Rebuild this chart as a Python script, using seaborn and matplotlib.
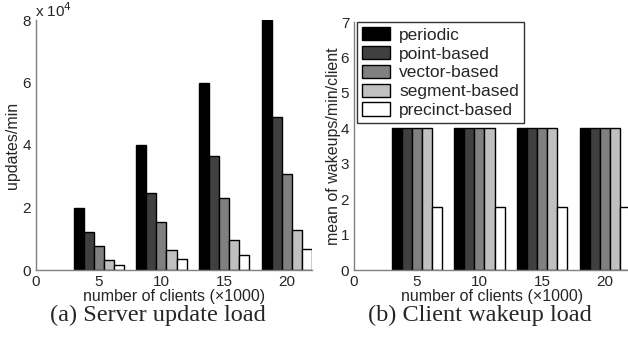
import pandas as pd
import matplotlib.pyplot as plt
import seaborn as sns

# data
clients = [5, 10, 15, 20]
methods = ['periodic', 'point-based', 'vector-based', 'segment-based', 'precinct-based']
updates = {  # x 10^4 updates/min
    'periodic':       [2.00, 4.00, 6.00, 8.00],
    'point-based':    [1.23, 2.45, 3.66, 4.89],
    'vector-based':   [0.77, 1.55, 2.31, 3.07],
    'segment-based':  [0.33, 0.65, 0.96, 1.29],
    'precinct-based': [0.17, 0.34, 0.49, 0.68],
}
wakeups = {  # mean wakeups/min/client
    'periodic':       [4.0, 4.0, 4.0, 4.0],
    'point-based':    [4.0, 4.0, 4.0, 4.0],
    'vector-based':   [4.0, 4.0, 4.0, 4.0],
    'segment-based':  [4.0, 4.0, 4.0, 4.0],
    'precinct-based': [1.77, 1.77, 1.77, 1.77],
}
colors = ['#000000', '#404040', '#808080', '#c0c0c0', '#ffffff']


def to_long(d):
    rows = []
    for m in methods:
        for c, v in zip(clients, d[m]):
            rows.append({'clients': c, 'method': m, 'value': v})
    return pd.DataFrame(rows)


sns.set_style('white')
plt.rcParams['font.family'] = ['Liberation Sans', 'DejaVu Sans']

fig = plt.figure(figsize=(6.28, 3.41), dpi=100)
ax1 = fig.add_axes([36 / 628, 1 - 270 / 341, 276 / 628, 250 / 341])
ax2 = fig.add_axes([354 / 628, 1 - 270 / 341, 276 / 628, 248 / 341])

for ax, d in [(ax1, updates), (ax2, wakeups)]:
    sns.barplot(data=to_long(d), x='clients', y='value', hue='method',
                hue_order=methods, palette=colors, native_scale=True,
                errorbar=None, edgecolor='black', linewidth=1.0,
                width=0.8, ax=ax, legend=(ax is ax2))
    ax.set_xlim(0, 22)
    ax.set_xticks([0, 5, 10, 15, 20])
    ax.set_xticklabels(['0', '5', '10', '15', '20'])
    ax.tick_params(labelsize=11, length=2.5, width=0.8, color='#808080', pad=1)
    for s in ['top', 'right']:
        ax.spines[s].set_visible(False)
    for s in ['left', 'bottom']:
        ax.spines[s].set_color('#808080')
        ax.spines[s].set_linewidth(1.0)
    ax.set_xlabel('number of clients (\u00d71000)', fontsize=11.5, labelpad=0)

ax1.set_ylim(0, 8)
ax1.set_yticks([0, 2, 4, 6, 8])
ax1.set_ylabel('updates/min', fontsize=11.5, labelpad=2)
ax1.text(-0.005, 1.0, 'x 10$^4$', transform=ax1.transAxes, fontsize=11,
         va='bottom', ha='left')

ax2.set_ylim(0, 7)
ax2.set_yticks(range(8))
ax2.set_ylabel('mean of wakeups/min/client', fontsize=11.5, labelpad=0)
leg = ax2.legend(loc='upper left', bbox_to_anchor=(0.01, 1.0), fontsize=12.5,
                 frameon=True, fancybox=False, edgecolor='black',
                 handlelength=1.6, handleheight=0.8, labelspacing=0.18,
                 borderpad=0.3, handletextpad=0.55, borderaxespad=0.0,
                 title=None)
leg.get_frame().set_linewidth(1.0)

fig.text(158 / 628, 1 - 321 / 341, '(a) Server update load', ha='center',
         va='baseline', fontsize=17.5, family='Liberation Serif')
fig.text(480 / 628, 1 - 321 / 341, '(b) Client wakeup load', ha='center',
         va='baseline', fontsize=17.5, family='Liberation Serif')

fig.savefig('out.png', dpi=100)
